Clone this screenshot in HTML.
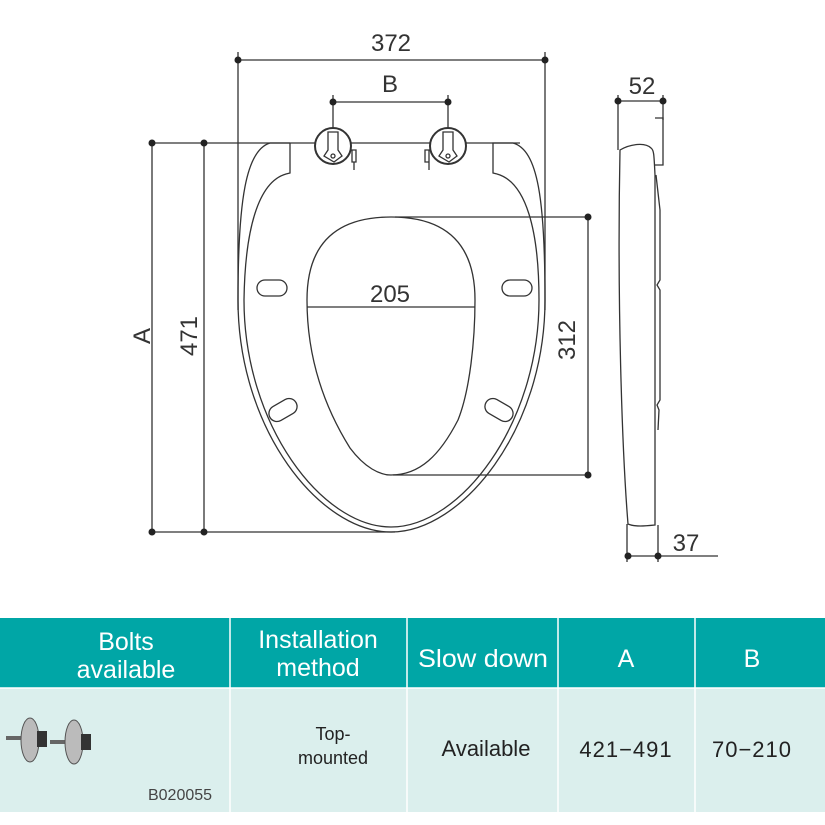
<!DOCTYPE html>
<html><head><meta charset="utf-8"><style>
html,body{margin:0;padding:0;background:#fff;width:825px;height:825px;overflow:hidden}
svg{display:block}
text{font-family:"Liberation Sans",Arial,sans-serif}
.n{font-family:"Liberation Sans Narrow","Liberation Sans",sans-serif}
</style></head><body>
<svg width="825" height="825" viewBox="0 0 825 825" xmlns="http://www.w3.org/2000/svg">
<g fill="none" stroke="#333" stroke-width="1.3">
<line x1="238" y1="52" x2="238" y2="310"/><line x1="545" y1="52" x2="545" y2="310"/>
<line x1="238" y1="60" x2="545" y2="60"/>
<line x1="333" y1="95" x2="333" y2="145"/><line x1="448" y1="95" x2="448" y2="145"/>
<line x1="333" y1="102" x2="448" y2="102"/>
<line x1="150" y1="143" x2="520" y2="143"/>
<line x1="152" y1="143" x2="152" y2="532"/><line x1="204" y1="143" x2="204" y2="532"/>
<line x1="150" y1="532" x2="395" y2="532"/>
<path d="M290,143 L270,143 C246,150 238,200 238,300 C238,430 320,532 391,532 C462,532 545,430 545,300 C545,200 538,150 513,143 L493,143 L493,173 L497,174"/>
<path d="M290,143 L290,173 L286,174 C258,182 245,230 244,300 C244,425 322,527 391,527 C460,527 539,425 539,300 C539,230 526,182 497,174"/>
<path d="M391,217 C330,217 307,250 307,300 C307,350 320,400 350,448 C365,468 380,475 391,475 C420,475 440,455 458,420 C470,390 475,340 475,300 C475,250 452,217 391,217 Z"/>
<line x1="307" y1="307" x2="475" y2="307"/>
<line x1="395" y1="217" x2="588" y2="217"/><line x1="393" y1="475" x2="588" y2="475"/>
<line x1="588" y1="217" x2="588" y2="475"/>
<rect x="257" y="280" width="30" height="16" rx="8"/>
<rect x="502" y="280" width="30" height="16" rx="8"/>
<rect x="268" y="402" width="30" height="16" rx="8" transform="rotate(-30 283 410)"/>
<rect x="484" y="402" width="30" height="16" rx="8" transform="rotate(30 499 410)"/>
<circle cx="333" cy="146" r="18" stroke-width="2" fill="#fff"/>
<circle cx="448" cy="146" r="18" stroke-width="2" fill="#fff"/>
<path d="M328,132 L338,132 L338,150 L342,156 L334,162 L324,156 L328,150 Z" fill="#fff"/>
<path d="M443,132 L453,132 L453,150 L457,156 L449,162 L439,156 L443,150 Z" fill="#fff"/>
<circle cx="333" cy="156" r="2"/><circle cx="448" cy="156" r="2"/>
<path d="M352,150 L356,150 L356,162 L352,162 Z M354,162 L354,170"/>
<path d="M425,150 L429,150 L429,162 L425,162 Z M429,162 L429,170"/>
<line x1="618" y1="95" x2="618" y2="150"/><line x1="663" y1="95" x2="663" y2="120"/>
<line x1="618" y1="101" x2="663" y2="101"/>
<path d="M620,150 C630,144 645,142 651,148 C654,150 654,155 655,175 L655,525 C645,526 635,527 628,524 C622,450 617,300 620,150 Z"/>
<path d="M655,118 L663,118 L663,165 L655,165"/>
<path d="M656,175 L660,210 L660,280 L657,285 L660,290 L660,400 L657,405 L659,410 L658,430"/>
<line x1="627" y1="524" x2="627" y2="562"/><line x1="658" y1="525" x2="658" y2="562"/>
<line x1="628" y1="556" x2="718" y2="556"/>
</g>
<g fill="#222">
<circle cx="238" cy="60" r="3.5"/><circle cx="545" cy="60" r="3.5"/>
<circle cx="333" cy="102" r="3.5"/><circle cx="448" cy="102" r="3.5"/>
<circle cx="152" cy="143" r="3.5"/><circle cx="204" cy="143" r="3.5"/>
<circle cx="152" cy="532" r="3.5"/><circle cx="204" cy="532" r="3.5"/>
<circle cx="588" cy="217" r="3.5"/><circle cx="588" cy="475" r="3.5"/>
<circle cx="618" cy="101" r="3.5"/><circle cx="663" cy="101" r="3.5"/>
<circle cx="628" cy="556" r="3.5"/><circle cx="658" cy="556" r="3.5"/>
</g>
<g fill="#333" font-size="24">
<text x="391" y="51" text-anchor="middle">372</text>
<text x="390" y="92" text-anchor="middle">B</text>
<text x="390" y="302" text-anchor="middle">205</text>
<text x="642" y="94" text-anchor="middle">52</text>
<text x="686" y="551" text-anchor="middle">37</text>
<text transform="translate(150,336) rotate(-90)" text-anchor="middle">A</text>
<text transform="translate(197,336) rotate(-90)" text-anchor="middle">471</text>
<text transform="translate(575,340) rotate(-90)" text-anchor="middle">312</text>
</g>
<rect x="0" y="618" width="825" height="70" fill="#00a6a6"/>
<rect x="0" y="688" width="825" height="124" fill="#dbefed"/>
<g stroke="#fff" stroke-width="1.5">
<line x1="230" y1="618" x2="230" y2="812"/><line x1="407" y1="618" x2="407" y2="812"/>
<line x1="558" y1="618" x2="558" y2="812"/><line x1="695" y1="618" x2="695" y2="812"/>
<line x1="0" y1="688" x2="825" y2="688"/>
</g>
<g class="n" fill="#fff" font-size="25" text-anchor="middle">
<text x="126" y="650">Bolts</text><text x="126" y="678">available</text>
<text x="318" y="648">Installation</text><text x="318" y="676">method</text>
<text x="483" y="667" textLength="130" lengthAdjust="spacingAndGlyphs">Slow down</text>
<text x="626" y="667">A</text><text x="752" y="667">B</text>
</g>
<g class="n" fill="#222" text-anchor="middle">
<text x="333" y="740" font-size="18">Top-</text><text x="333" y="764" font-size="18">mounted</text>
<text x="486" y="756" font-size="22">Available</text>
<text x="626" y="757" font-size="22" letter-spacing="1">421−491</text>
<text x="752" y="757" font-size="22" letter-spacing="1">70−210</text>
<text x="180" y="800" font-size="16" fill="#444">B020055</text>
</g>
<g>
<line x1="6" y1="738" x2="30" y2="738" stroke="#666" stroke-width="4"/>
<ellipse cx="30" cy="740" rx="9" ry="22" fill="#bbb" stroke="#555"/>
<rect x="37" y="731" width="10" height="16" fill="#333"/>
<line x1="50" y1="742" x2="74" y2="742" stroke="#666" stroke-width="4"/>
<ellipse cx="74" cy="742" rx="9" ry="22" fill="#bbb" stroke="#555"/>
<rect x="81" y="734" width="10" height="16" fill="#333"/>
</g>
</svg>
</body></html>
